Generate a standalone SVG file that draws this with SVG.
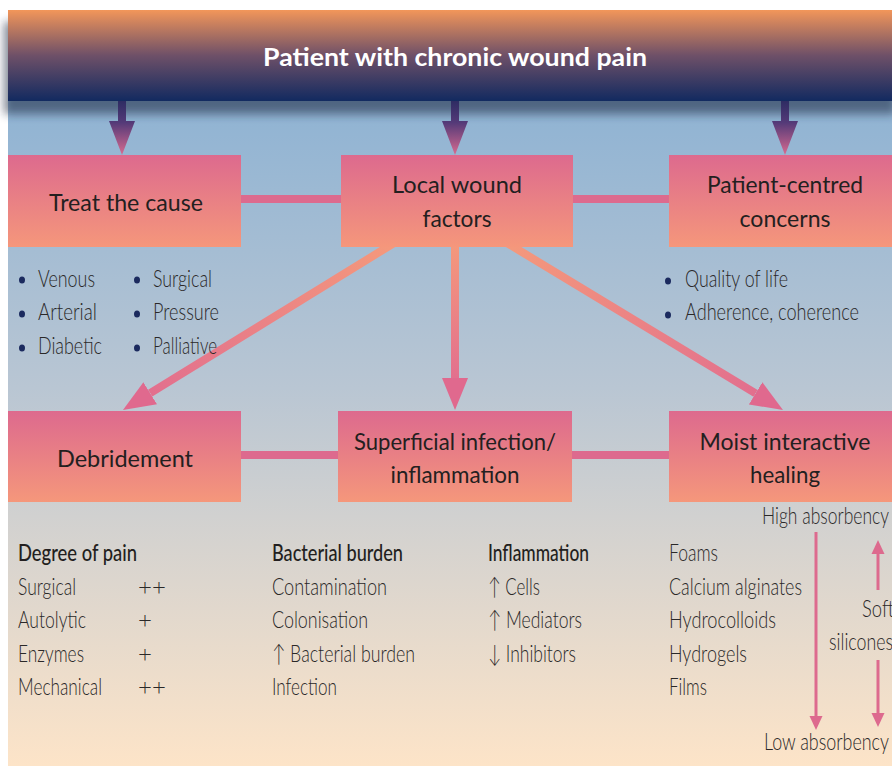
<svg xmlns="http://www.w3.org/2000/svg" width="892" height="776" viewBox="0 0 892 776">
<defs>
<linearGradient id="bg" x1="0" y1="10" x2="0" y2="766" gradientUnits="userSpaceOnUse">
<stop offset="0.12" stop-color="#8FB3D3"/>
<stop offset="0.5" stop-color="#B9C6D3"/>
<stop offset="0.67" stop-color="#D1D1D0"/>
<stop offset="1" stop-color="#FDE4C8"/>
</linearGradient>
<linearGradient id="hdr" x1="0" y1="0" x2="0" y2="1">
<stop offset="0" stop-color="#F2965A"/>
<stop offset="0.5" stop-color="#6E5068"/>
<stop offset="1" stop-color="#122A60"/>
</linearGradient>
<linearGradient id="box" x1="0" y1="0" x2="0" y2="1">
<stop offset="0" stop-color="#DD6A8E"/>
<stop offset="1" stop-color="#F5977B"/>
</linearGradient>
<linearGradient id="harr" x1="0" y1="0" x2="0" y2="1">
<stop offset="0" stop-color="#2E2C63"/>
<stop offset="0.4" stop-color="#543A78"/>
<stop offset="1" stop-color="#D86B90"/>
</linearGradient>
<linearGradient id="gl" x1="387" y1="247" x2="150" y2="393" gradientUnits="userSpaceOnUse">
<stop offset="0" stop-color="#F4987C"/>
<stop offset="1" stop-color="#E26F8E"/>
</linearGradient>
<linearGradient id="gm" x1="455" y1="247" x2="455" y2="380" gradientUnits="userSpaceOnUse">
<stop offset="0" stop-color="#F4987C"/>
<stop offset="1" stop-color="#E26F8E"/>
</linearGradient>
<linearGradient id="gr" x1="514" y1="247" x2="756" y2="393" gradientUnits="userSpaceOnUse">
<stop offset="0" stop-color="#F4987C"/>
<stop offset="1" stop-color="#E26F8E"/>
</linearGradient>
<marker id="big" markerUnits="userSpaceOnUse" markerWidth="32" markerHeight="26" viewBox="0 -13 32 26" refX="0" refY="0" orient="auto">
<path d="M0,-13 L32,0 L0,13 z" fill="#E0698E"/>
</marker>
<marker id="small" markerUnits="userSpaceOnUse" markerWidth="14" markerHeight="14" viewBox="0 -7 14 14" refX="0" refY="0" orient="auto">
<path d="M0,-6.5 L14,0 L0,6.5 z" fill="#DD6A8E"/>
</marker>
<filter id="shadow" x="-0.1" y="-0.3" width="1.2" height="1.6">
<feGaussianBlur stdDeviation="5"/>
</filter>
<style>
.lbl{font-family:Lato,"Open Sans","Liberation Sans",sans-serif;font-size:24px;fill:#231F20;text-anchor:middle}
.t{font-family:Lato,"Open Sans","Liberation Sans",sans-serif;font-size:24px;font-weight:300;fill:#2A2828}
.h{font-family:Lato,"Open Sans","Liberation Sans",sans-serif;font-size:23px;font-weight:500;fill:#231F20}
.bul{fill:#1B2A5E}
.conn{fill:#DD6A8E}
</style>
</defs>

<rect x="8" y="10" width="884" height="756" fill="url(#bg)"/>

<g id="header">
<rect x="4" y="22" width="892" height="92" fill="#1B2840" opacity="0.55" filter="url(#shadow)"/>
<rect x="8" y="10" width="884" height="91" fill="url(#hdr)"/>
<text x="455" y="66" font-family="Lato,'Open Sans','Liberation Sans',sans-serif" font-size="24" font-weight="bold" fill="#FFFFFF" text-anchor="middle" textLength="384" lengthAdjust="spacingAndGlyphs">Patient with chronic wound pain</text>
</g>

<g id="connectors">
<path d="M118,101 L126,101 L126,121 L135,121 L122,155 L109,121 L118,121 z" fill="url(#harr)"/>
<path d="M451,101 L459,101 L459,121 L468,121 L455,155 L442,121 L451,121 z" fill="url(#harr)"/>
<path d="M781,101 L789,101 L789,121 L798,121 L785,155 L772,121 L781,121 z" fill="url(#harr)"/>
<rect class="conn" x="240" y="195" width="102" height="8"/>
<rect class="conn" x="572" y="195" width="98" height="8"/>
<rect class="conn" x="240" y="451" width="99" height="8"/>
<rect class="conn" x="571" y="451" width="99" height="8"/>
<line x1="394" y1="243" x2="150.2" y2="393.2" stroke="url(#gl)" stroke-width="8" marker-end="url(#big)"/>
<line x1="455" y1="240" x2="455" y2="378" stroke="url(#gm)" stroke-width="8" marker-end="url(#big)"/>
<line x1="507" y1="243" x2="755.6" y2="393.4" stroke="url(#gr)" stroke-width="8" marker-end="url(#big)"/>
<line x1="816" y1="532" x2="816" y2="716" stroke="#DD6A8E" stroke-width="3" marker-end="url(#small)"/>
<line x1="878" y1="590" x2="878" y2="554" stroke="#DD6A8E" stroke-width="3" marker-end="url(#small)"/>
<line x1="878" y1="660" x2="878" y2="713" stroke="#DD6A8E" stroke-width="3" marker-end="url(#small)"/>
</g>

<g id="treat-cause">
<rect x="8" y="155" width="233" height="92" fill="url(#box)"/>
<text class="lbl" x="126" y="211" textLength="154" lengthAdjust="spacingAndGlyphs">Treat the cause</text>
</g>
<g id="local-wound">
<rect x="341" y="155" width="232" height="92" fill="url(#box)"/>
<text class="lbl" x="457" y="193" textLength="130" lengthAdjust="spacingAndGlyphs">Local wound</text>
<text class="lbl" x="457" y="227" textLength="69" lengthAdjust="spacingAndGlyphs">factors</text>
</g>
<g id="patient-centred">
<rect x="669" y="155" width="223" height="92" fill="url(#box)"/>
<text class="lbl" x="785" y="193" textLength="156" lengthAdjust="spacingAndGlyphs">Patient-centred</text>
<text class="lbl" x="785" y="227" textLength="91" lengthAdjust="spacingAndGlyphs">concerns</text>
</g>
<g id="debridement">
<rect x="8" y="411" width="233" height="91" fill="url(#box)"/>
<text class="lbl" x="125" y="467" textLength="136" lengthAdjust="spacingAndGlyphs">Debridement</text>
</g>
<g id="superficial">
<rect x="338" y="411" width="234" height="91" fill="url(#box)"/>
<text class="lbl" x="455" y="450" textLength="202" lengthAdjust="spacingAndGlyphs">Superficial infection/</text>
<text class="lbl" x="455" y="483" textLength="129" lengthAdjust="spacingAndGlyphs">inflammation</text>
</g>
<g id="moist">
<rect x="669" y="411" width="223" height="91" fill="url(#box)"/>
<text class="lbl" x="785" y="450" textLength="171" lengthAdjust="spacingAndGlyphs">Moist interactive</text>
<text class="lbl" x="785" y="483" textLength="70" lengthAdjust="spacingAndGlyphs">healing</text>
</g>

<g id="cause-list">
<ellipse class="bul" cx="22" cy="280" rx="3" ry="3.5"/>
<ellipse class="bul" cx="22" cy="314" rx="3" ry="3.5"/>
<ellipse class="bul" cx="22" cy="348" rx="3" ry="3.5"/>
<ellipse class="bul" cx="137" cy="280" rx="3" ry="3.5"/>
<ellipse class="bul" cx="137" cy="314" rx="3" ry="3.5"/>
<ellipse class="bul" cx="137" cy="348" rx="3" ry="3.5"/>
<text class="t" x="38" y="287" textLength="57" lengthAdjust="spacingAndGlyphs">Venous</text>
<text class="t" x="38" y="320" textLength="59" lengthAdjust="spacingAndGlyphs">Arterial</text>
<text class="t" x="38" y="354" textLength="64" lengthAdjust="spacingAndGlyphs">Diabetic</text>
<text class="t" x="153" y="287" textLength="59" lengthAdjust="spacingAndGlyphs">Surgical</text>
<text class="t" x="153" y="320" textLength="66" lengthAdjust="spacingAndGlyphs">Pressure</text>
<text class="t" x="153" y="354" textLength="64" lengthAdjust="spacingAndGlyphs">Palliative</text>
</g>

<g id="concerns-list">
<ellipse class="bul" cx="668" cy="281" rx="3" ry="3.5"/>
<ellipse class="bul" cx="668" cy="315" rx="3" ry="3.5"/>
<text class="t" x="685" y="287" textLength="103" lengthAdjust="spacingAndGlyphs">Quality of life</text>
<text class="t" x="685" y="320" textLength="174" lengthAdjust="spacingAndGlyphs">Adherence, coherence</text>
</g>

<g id="pain-list">
<text class="h" x="18" y="561" textLength="119" lengthAdjust="spacingAndGlyphs">Degree of pain</text>
<text class="t" x="18" y="595" textLength="58" lengthAdjust="spacingAndGlyphs">Surgical</text>
<text class="t" x="18" y="628" textLength="68" lengthAdjust="spacingAndGlyphs">Autolytic</text>
<text class="t" x="18" y="662" textLength="66" lengthAdjust="spacingAndGlyphs">Enzymes</text>
<text class="t" x="18" y="695" textLength="84" lengthAdjust="spacingAndGlyphs">Mechanical</text>
<text class="t" x="138" y="595">++</text>
<text class="t" x="138" y="628">+</text>
<text class="t" x="138" y="662">+</text>
<text class="t" x="138" y="695">++</text>
</g>

<g id="bacterial-list">
<text class="h" x="272" y="561" textLength="131" lengthAdjust="spacingAndGlyphs">Bacterial burden</text>
<text class="t" x="272" y="595" textLength="115" lengthAdjust="spacingAndGlyphs">Contamination</text>
<text class="t" x="272" y="628" textLength="96" lengthAdjust="spacingAndGlyphs">Colonisation</text>
<text class="t" x="272" y="662" textLength="143" lengthAdjust="spacingAndGlyphs">↑ Bacterial burden</text>
<text class="t" x="272" y="695" textLength="65" lengthAdjust="spacingAndGlyphs">Infection</text>
</g>

<g id="inflammation-list">
<text class="h" x="488" y="561" textLength="101" lengthAdjust="spacingAndGlyphs">Inflammation</text>
<text class="t" x="488" y="595" textLength="52" lengthAdjust="spacingAndGlyphs">↑ Cells</text>
<text class="t" x="488" y="628" textLength="94" lengthAdjust="spacingAndGlyphs">↑ Mediators</text>
<text class="t" x="488" y="662" textLength="88" lengthAdjust="spacingAndGlyphs">↓ Inhibitors</text>
</g>

<g id="dressings-list">
<text class="t" x="669" y="561" textLength="49" lengthAdjust="spacingAndGlyphs">Foams</text>
<text class="t" x="669" y="595" textLength="133" lengthAdjust="spacingAndGlyphs">Calcium alginates</text>
<text class="t" x="669" y="628" textLength="107" lengthAdjust="spacingAndGlyphs">Hydrocolloids</text>
<text class="t" x="669" y="662" textLength="78" lengthAdjust="spacingAndGlyphs">Hydrogels</text>
<text class="t" x="669" y="695" textLength="38" lengthAdjust="spacingAndGlyphs">Films</text>
</g>

<g id="absorbency">
<text class="t" x="762" y="524" textLength="127" lengthAdjust="spacingAndGlyphs">High absorbency</text>
<text class="t" x="764" y="750" textLength="125" lengthAdjust="spacingAndGlyphs">Low absorbency</text>
<text class="t" x="862" y="617" textLength="32" lengthAdjust="spacingAndGlyphs">Soft</text>
<text class="t" x="829" y="650" textLength="64" lengthAdjust="spacingAndGlyphs">silicones</text>
</g>
</svg>
